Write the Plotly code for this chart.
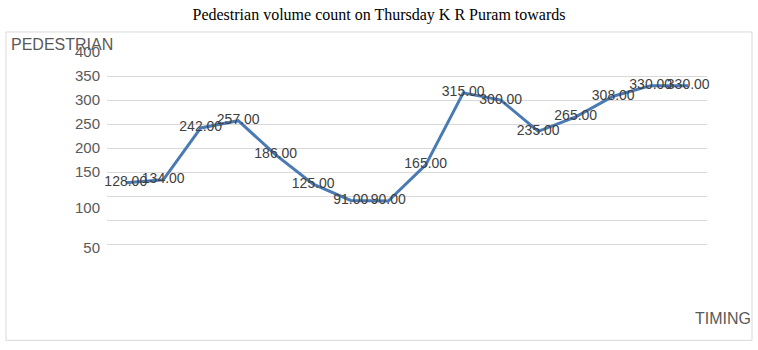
import plotly.graph_objects as go

# ---- data ----
timing_index = list(range(1, 17))
pedestrians = [128, 134, 242, 257, 186, 125, 91, 90, 165, 315, 300, 235, 265, 308, 330, 330]
data_labels = [f"{v:.2f}" for v in pedestrians]

grid_values = [0, 50, 100, 150, 200, 250, 300, 350, 400]
tick_positions = [-8, 75, 150, 200, 250, 300, 350, 400]
tick_labels = ["50", "100", "150", "200", "250", "300", "350", "400"]

W, H = 758, 350
L, R, T = 107, 51, 52
y_range = [-12, 400]
plot_h = (y_range[1] - y_range[0]) * 0.48
B = H - T - plot_h
plot_w = W - L - R


def px_x(px):
    return (px - L) / plot_w


def px_y(py):
    return (T + plot_h - py) / plot_h


fig = go.Figure()
fig.add_trace(go.Scatter(
    x=timing_index, y=pedestrians, mode="lines+text",
    text=data_labels, textposition="middle center",
    textfont=dict(family="Liberation Sans, Arial", size=14, color="#404040"),
    line=dict(color="#4a7ab4", width=3),
    hoverinfo="x+y", showlegend=False, cliponaxis=False,
))
# carrier trace for the tick-label axis
fig.add_trace(go.Scatter(x=[None], y=[None], yaxis="y2", showlegend=False, hoverinfo="skip"))

fig.update_layout(
    width=W, height=H,
    margin=dict(l=L, r=R, t=T, b=B, pad=0),
    paper_bgcolor="white", plot_bgcolor="white",
    title=dict(text="Pedestrian volume count on Thursday K R Puram towards",
               x=0.5, xanchor="center", y=1 - 14 / H, yanchor="middle",
               font=dict(family="Liberation Serif, Times New Roman", size=16, color="#000000")),
    xaxis=dict(range=[0.5, 16.5], showticklabels=False, showgrid=False,
               zeroline=False, showline=False, ticks=""),
    yaxis=dict(range=y_range, tickmode="array", tickvals=grid_values,
               showticklabels=False, showgrid=True, gridcolor="#d9d9d9", gridwidth=1,
               zeroline=False, showline=False, ticks=""),
    yaxis2=dict(range=y_range, overlaying="y", side="left", tickmode="array",
                tickvals=tick_positions, ticktext=tick_labels, showgrid=False,
                zeroline=False, showline=False, ticks="", ticklabelstandoff=6,
                tickfont=dict(family="Liberation Sans, Arial", size=15, color="#595959")),
    shapes=[dict(type="rect", xref="paper", yref="paper",
                 x0=px_x(6), x1=px_x(752), y0=px_y(340), y1=px_y(32),
                 line=dict(color="#d9d9d9", width=1), layer="below")],
    annotations=[
        dict(text="PEDESTRIAN", xref="paper", yref="paper", x=px_x(9), y=px_y(45),
             xanchor="left", yanchor="middle", showarrow=False,
             font=dict(family="Liberation Sans, Arial", size=16, color="#595959")),
        dict(text="TIMING", xref="paper", yref="paper", x=px_x(753), y=px_y(318),
             xanchor="right", yanchor="middle", showarrow=False,
             font=dict(family="Liberation Sans, Arial", size=16, color="#595959")),
    ],
)

fig.write_html("out.html")
